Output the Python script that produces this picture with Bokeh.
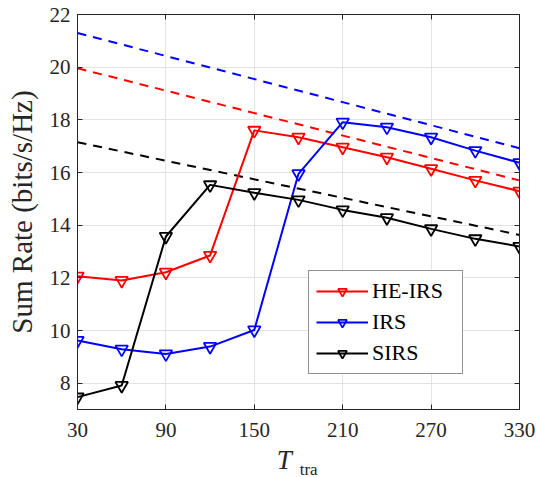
from bokeh.plotting import figure
from bokeh.layouts import column
from bokeh.models import (Range1d, FixedTicker, LinearAxis, Legend, LegendItem,
                          ColumnDataSource)
from bokeh.core.properties import value
from bokeh.embed import file_html
from bokeh.resources import INLINE

# ---- data ----
t_tra = [30, 60, 90, 120, 150, 180, 210, 240, 270, 300, 330]
he_irs = [12.06, 11.90, 12.21, 12.85, 17.60, 17.34, 16.96, 16.58, 16.14, 15.70, 15.29]
irs = [9.62, 9.29, 9.11, 9.39, 10.02, 15.95, 17.91, 17.72, 17.34, 16.83, 16.37]
sirs = [7.47, 7.91, 13.57, 15.53, 15.23, 14.96, 14.58, 14.28, 13.86, 13.48, 13.19]

t_bound = [30, 330]
he_irs_bound = [19.96, 15.70]
irs_bound = [21.30, 16.92]
sirs_bound = [17.15, 13.63]

x_ticks = [30, 90, 150, 210, 270, 330]
y_ticks = [8, 10, 12, 14, 16, 18, 20, 22]

FONT = "Liberation Serif"
AX = "#262626"

p = figure(width=536, height=446, output_backend="svg", toolbar_location=None,
           x_range=Range1d(30, 330), y_range=Range1d(7, 22),
           min_border_left=77, min_border_right=17, min_border_top=14,
           min_border_bottom=37)
p.background_fill_color = "white"
p.border_fill_color = "white"
p.outline_line_color = AX
p.outline_line_width = 1

# grids
for g in (p.xgrid, p.ygrid):
    g.grid_line_color = "#E3E3E3"
    g.grid_line_width = 1
p.xgrid.ticker = FixedTicker(ticks=x_ticks)
p.ygrid.ticker = FixedTicker(ticks=y_ticks)

def style_axis(ax, show_labels=True):
    ax.axis_line_color = AX
    ax.axis_line_width = 1
    ax.major_tick_line_color = AX
    ax.major_tick_in = 5
    ax.major_tick_out = 0
    ax.minor_tick_line_color = None
    ax.major_label_text_font = FONT
    if show_labels:
        ax.major_label_text_font_size = "21px"
        ax.major_label_text_color = AX
    else:
        ax.major_label_text_font_size = "8px"
        ax.major_label_text_color = None
        ax.major_label_standoff = 0

p.xaxis.ticker = FixedTicker(ticks=x_ticks)
p.yaxis.ticker = FixedTicker(ticks=y_ticks)
style_axis(p.xaxis[0])
style_axis(p.yaxis[0])
p.xaxis.major_label_standoff = 13
p.yaxis.major_label_standoff = 7

p.yaxis.axis_label = "Sum Rate (bits/s/Hz)"
p.yaxis.axis_label_text_font = FONT
p.yaxis.axis_label_text_font_style = "normal"
p.yaxis.axis_label_text_font_size = "29px"
p.yaxis.axis_label_text_color = AX
p.yaxis.axis_label_standoff = 9

top = LinearAxis(ticker=FixedTicker(ticks=x_ticks))
style_axis(top, show_labels=False)
p.add_layout(top, "above")
right = LinearAxis(ticker=FixedTicker(ticks=y_ticks))
style_axis(right, show_labels=False)
p.add_layout(right, "right")

# dashed bounds
for vals, col in ((irs_bound, "#0000FF"), (he_irs_bound, "#FF0000"), (sirs_bound, "#000000")):
    p.line(t_bound, vals, line_color=col, line_width=2, line_dash="9 7")

items = []
for name, vals, col in (("HE-IRS", he_irs, "#FF0000"), ("IRS", irs, "#0000FF"), ("SIRS", sirs, "#000000")):
    src = ColumnDataSource(dict(x=t_tra, y=vals))
    ln = p.line("x", "y", source=src, line_color=col, line_width=2)
    sc = p.scatter("x", "y", source=src, marker="inverted_triangle", size=12.5,
                   fill_color=None, line_color=col, line_width=1.8)
    items.append(LegendItem(label=name, renderers=[ln, sc]))

legend = Legend(items=items, location=(231, 35), margin=0, padding=7, spacing=5,
                glyph_width=52, glyph_height=22, label_height=22, label_width=83,
                label_standoff=4,
                label_text_font=FONT, label_text_font_size="22px",
                label_text_color="black",
                border_line_color=AX, border_line_width=1,
                background_fill_color="white", background_fill_alpha=1)
p.add_layout(legend, "center")

# x axis title strip: italic T with upright subscript "tra"
q = figure(width=536, height=31, output_backend="svg", toolbar_location=None,
           x_range=Range1d(30, 330), y_range=Range1d(0, 31),
           x_axis_type=None, y_axis_type=None,
           min_border_left=77, min_border_right=17, min_border_top=0,
           min_border_bottom=0)
q.outline_line_color = None
q.xgrid.visible = False
q.ygrid.visible = False
q.background_fill_color = "white"
q.border_fill_color = "white"
q.text(x=[165.2], y=[17.6], text=["T"], text_font=value(FONT), text_font_style="italic",
       text_font_size="27px", text_color=AX, text_baseline="alphabetic",
       text_align="left")
q.text(x=[180.8], y=[8.5], text=["tra"], text_font=value(FONT), text_font_style="normal",
       text_font_size="17px", text_color=AX, text_baseline="alphabetic",
       text_align="left")

layout = column(p, q, spacing=0)
open("out.html", "w").write(file_html(layout, INLINE))
